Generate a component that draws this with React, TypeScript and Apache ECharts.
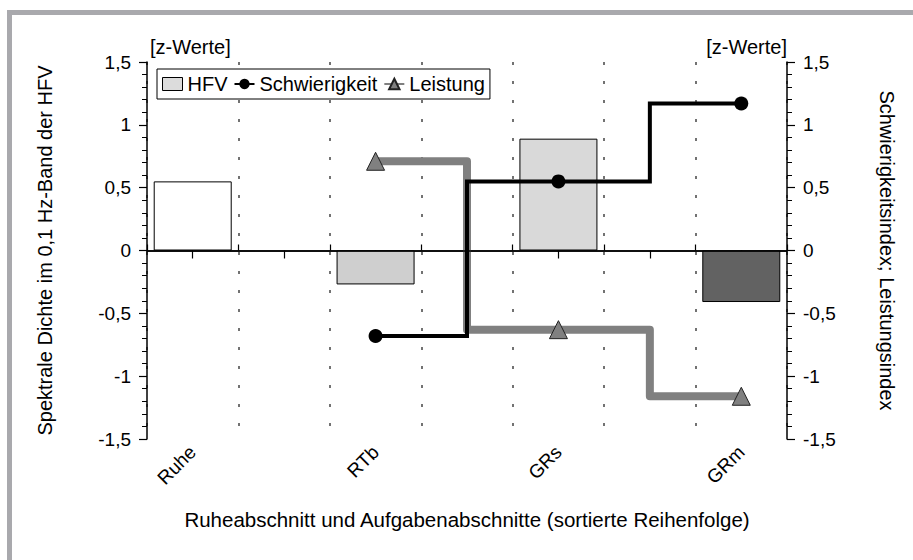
import React, { useEffect, useRef } from "react";
import * as echarts from "echarts";

const categories = ["Ruhe", "", "RTb", "", "GRs", "", "GRm"];
const hfv = [0.55, null, -0.27, null, 0.89, null, -0.41];
const schwierigkeit = [null, null, -0.68, null, 0.55, null, 1.17];
const leistung = [null, null, 0.71, null, -0.63, null, -1.16];
const barFills = ["#ffffff", "#cfcfcf", "#d9d9d9", "#626262"];
const yUnit = "[z-Werte]";

const FONT = "Liberation Sans";

export default function App() {
  const ref = useRef<HTMLDivElement>(null);
  useEffect(() => {
    if (!ref.current) return;
    const chart = echarts.init(ref.current, undefined, { renderer: "svg" });
    let fi = 0;
    const barData = hfv.map((v) => {
      if (v === null) return null;
      const c = barFills[fi++];
      return { value: v, itemStyle: { color: c } };
    });
    const fmt = (v: number) => String(v).replace(".", ",");
    const yAxisBase = {
      type: "value",
      min: -1.5,
      max: 1.5,
      interval: 0.5,
      nameLocation: "middle",
      nameTextStyle: { fontSize: 20, color: "#000", fontFamily: FONT },
      axisLine: { show: true, lineStyle: { color: "#000", width: 1.5 } },
      axisTick: { show: true, length: 8, lineStyle: { color: "#000", width: 1.2 } },
      minorTick: { show: true, splitNumber: 5, length: 5, lineStyle: { color: "#000", width: 1 } },
      splitLine: { show: false },
      axisLabel: { fontSize: 19, color: "#000", fontFamily: FONT, margin: 16, formatter: fmt },
    };
    chart.setOption({
      animation: false,
      backgroundColor: "#fff",
      textStyle: { fontFamily: FONT },
      grid: { left: 147, right: 126, top: 62, bottom: 121 },
      legend: {
        left: 157,
        top: 69,
        padding: [5, 5, 5, 5],
        borderColor: "#000",
        borderWidth: 1,
        backgroundColor: "#fff",
        itemWidth: 20,
        itemHeight: 13,
        itemGap: 6,
        textStyle: { fontSize: 20, color: "#000", fontFamily: FONT },
        data: [
          { name: "HFV", icon: "rect", itemStyle: { color: "#dcdcdc", borderColor: "#000", borderWidth: 1 } },
          { name: "Schwierigkeit" },
          { name: "Leistung" },
        ],
      },
      xAxis: [
        {
          type: "category",
          data: categories,
          boundaryGap: true,
          name: "Ruheabschnitt und Aufgabenabschnitte (sortierte Reihenfolge)",
          nameLocation: "middle",
          nameGap: 70,
          nameTextStyle: { fontSize: 20.5, color: "#000", fontFamily: FONT },
          axisLine: { show: true, lineStyle: { color: "#000", width: 1.5 } },
          axisTick: { show: true, alignWithLabel: true, interval: 0, length: 8, lineStyle: { color: "#000", width: 1.2 } },
          axisLabel: { interval: 0, rotate: 45, fontSize: 19, color: "#000", fontFamily: FONT, margin: 10 },
          splitLine: { show: false },
        },
        {
          type: "category",
          data: categories,
          boundaryGap: true,
          position: "bottom",
          axisLine: { show: false },
          axisLabel: { show: false },
          axisTick: { show: true, inside: true, interval: 0, length: 6, lineStyle: { color: "#000", width: 1.2 } },
          splitLine: { show: true, interval: 0, lineStyle: { color: "#444", width: 1.5, type: [3, 16] } },
        },
      ],
      yAxis: [
        { ...yAxisBase, position: "left", name: "Spektrale Dichte im 0,1 Hz-Band der HFV", nameGap: 92 },
        { ...yAxisBase, position: "right", name: "Schwierigkeitsindex; Leistungsindex", nameGap: 90, nameRotate: -90 },
      ],
      series: [
        {
          name: "HFV",
          type: "bar",
          xAxisIndex: 0,
          yAxisIndex: 0,
          barWidth: 78,
          data: barData,
          z: 2,
          itemStyle: { color: "#dcdcdc", borderColor: "#000", borderWidth: 1 },
          markLine: {
            silent: true,
            symbol: "none",
            label: { show: false },
            lineStyle: { color: "#000", width: 1.5, type: "solid" },
            data: [{ yAxis: 0 }],
          },
        },
        {
          name: "Schwierigkeit",
          type: "line",
          xAxisIndex: 0,
          yAxisIndex: 1,
          step: "middle",
          connectNulls: true,
          data: schwierigkeit,
          z: 5,
          symbol: "circle",
          symbolSize: 14,
          color: "#000",
          lineStyle: { color: "#000", width: 4, join: "miter" },
          itemStyle: { color: "#000" },
        },
        {
          name: "Leistung",
          type: "line",
          xAxisIndex: 0,
          yAxisIndex: 1,
          step: "middle",
          connectNulls: true,
          data: leistung,
          z: 4,
          symbol: "triangle",
          symbolSize: 18,
          color: "#808080",
          lineStyle: { color: "#808080", width: 8, join: "round" },
          itemStyle: { color: "#808080", borderColor: "#222", borderWidth: 1 },
        },
      ],
      graphic: [
        { type: "rect", shape: { x: 7, y: 10, width: 906, height: 5 }, style: { fill: "#a9a9ad" } },
        { type: "rect", shape: { x: 7, y: 10, width: 5, height: 550 }, style: { fill: "#a9a9ad" } },
        {
          type: "text",
          x: 150,
          y: 47,
          style: { text: yUnit, fontSize: 20, fontFamily: FONT, fill: "#000", align: "left", verticalAlign: "middle" },
        },
        {
          type: "text",
          x: 787,
          y: 47,
          style: { text: yUnit, fontSize: 20, fontFamily: FONT, fill: "#000", align: "right", verticalAlign: "middle" },
        },
      ],
    });
    return () => chart.dispose();
  }, []);
  return (
    <div
      ref={ref}
      style={{ position: "fixed", left: 0, top: 0, width: 913, height: 560, background: "#fff" }}
    />
  );
}
